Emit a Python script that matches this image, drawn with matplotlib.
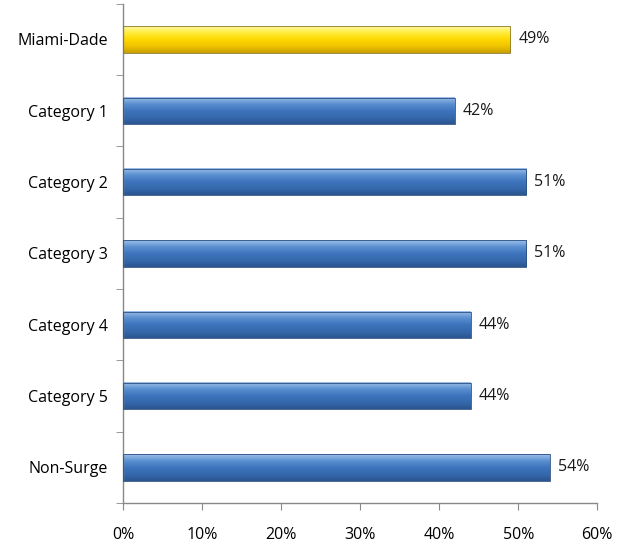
import numpy as np
import matplotlib

matplotlib.use("Agg")
import matplotlib.pyplot as plt
from matplotlib.colors import LinearSegmentedColormap

categories = ["Miami-Dade", "Category 1", "Category 2", "Category 3",
              "Category 4", "Category 5", "Non-Surge"]
values = [49, 42, 51, 51, 44, 44, 54]
highlight = ["Miami-Dade"]

# top -> bottom shading of each bar
BLUE = LinearSegmentedColormap.from_list(
    "blue", ["#9cc0ea", "#5b8fd0", "#3d74bd", "#3569ad", "#2a5690"])
YELLOW = LinearSegmentedColormap.from_list(
    "yellow", ["#fff8a0", "#ffec3a", "#ffd800", "#f0c400", "#c9a000"])

plt.rcParams["font.family"] = ["Open Sans", "DejaVu Sans"]
FS = 11.5

fig = plt.figure(figsize=(6.28, 5.45), dpi=100)
ax = fig.add_axes([0.196, 0.077, 0.755, 0.916])

y = np.arange(len(categories))
h = 0.37
grad = np.linspace(0, 1, 64).reshape(-1, 1)
for yi, v, cat in zip(y, values, categories):
    cmap = YELLOW if cat in highlight else BLUE
    ax.imshow(grad, cmap=cmap, aspect="auto", interpolation="bilinear",
              origin="lower", extent=(0, v, yi - h / 2, yi + h / 2), zorder=2)
    ax.barh(yi, v, height=h, facecolor="none",
            edgecolor="#8a7a30" if cat in highlight else "#2b4f80",
            linewidth=0.6, zorder=3)
    ax.text(v + 1.0, yi, f"{v}%", va="center", ha="left", fontsize=FS,
            color="#1a1a1a")

ax.set_xlim(0, 60)
ax.set_ylim(len(categories) - 0.5, -0.5)
ax.set_xticks(np.arange(0, 61, 10))
ax.set_xticklabels([f"{t}%" for t in range(0, 61, 10)], fontsize=FS)
ax.set_yticks(y)
ax.set_yticklabels(categories, fontsize=FS)
ax.set_yticks(np.arange(-0.5, len(categories), 1), minor=True)
ax.tick_params(axis="y", which="major", length=0, pad=11)
ax.tick_params(axis="y", which="minor", length=5, color="#888888", direction="out")
ax.tick_params(axis="x", length=5, color="#888888", direction="out", pad=12)

for side in ("top", "right"):
    ax.spines[side].set_visible(False)
for side in ("left", "bottom"):
    ax.spines[side].set_color("#888888")
    ax.spines[side].set_linewidth(1.0)

fig.savefig("out.png", dpi=100)
